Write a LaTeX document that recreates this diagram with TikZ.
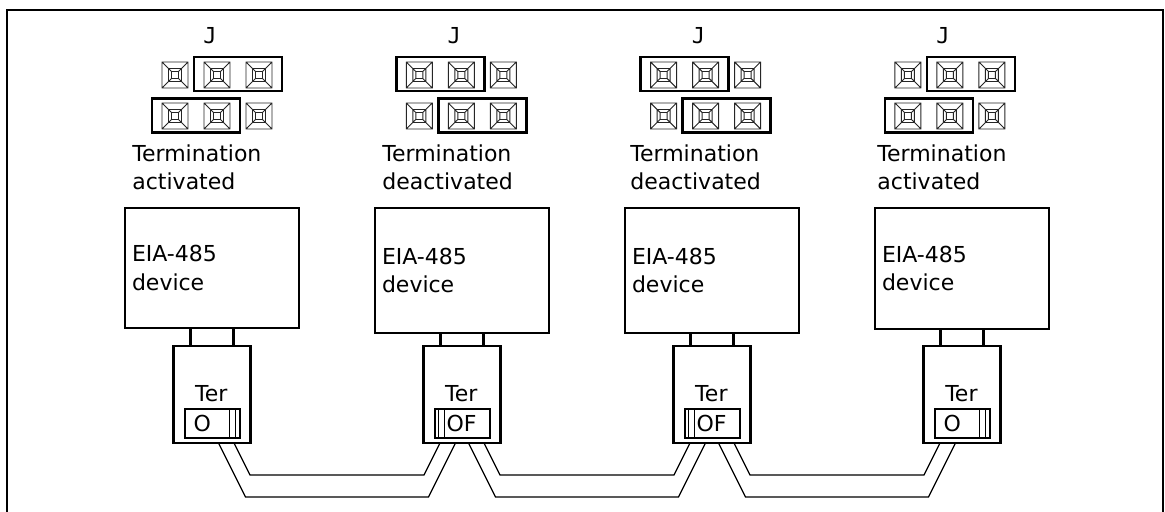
\documentclass[tikz,border=0pt]{standalone}
\usepackage{fontspec}
\setmainfont{DejaVu Sans}
\setmonofont{DejaVu Sans Mono}
\usetikzlibrary{positioning,calc}

\begin{document}
\begin{tikzpicture}[x=0.5pt, y=-0.5pt,
    box/.style={draw, line width=1.4pt, inner sep=0pt, outer sep=0pt},
    device/.style={box, minimum width=87pt, text width=80pt, align=left},
    terbox/.style={box, minimum width=38.5pt, minimum height=48.5pt},
    switch/.style={draw, line width=1pt, inner ysep=0pt, outer sep=0pt,
      minimum height=14.5pt, align=left},
    swon/.style={switch, inner xsep=4.5pt, text width=18.5pt},
    swoff/.style={switch, inner xsep=6pt, text width=15.5pt},
    jumper/.style={box, minimum width=44pt, minimum height=17pt},
    caption/.style={align=left, inner sep=0pt, anchor=north west},
    stub/.style={line width=1.4pt},
    cable/.style={line width=0.6pt},
    knob/.style={line width=0.5pt},
    jpin/.pic={
      \draw[line width=0.45pt, black!85]
        (-13,-13) rectangle (13,13) (-6.5,-6.5) rectangle (6.5,6.5)
        (-3.5,-3.5) rectangle (3.5,3.5)
        (-13,-13) -- (-3.5,-3.5) (13,-13) -- (3.5,-3.5)
        (13,13) -- (3.5,3.5) (-13,13) -- (-3.5,3.5);
    }]

  \fontsize{11pt}{14.3pt}\selectfont

  \newcommand\DX{250};
  \newcommand\JX{244.3};

  \useasboundingbox (0,0) rectangle (1165,512);
  \draw[line width=1.4pt] (7,10) rectangle (1163,540);

  % jumpers, row 1 at 75, row 2 at 116
  \foreach \k/\a/\b in {0/1/-1, 1/-1/1, 2/-1/1, 3/1/-1}{
    \foreach \p in {-42, 0, 42}{
      \pic at (217+\k*\JX+\p, 75) {jpin};
      \pic at (217+\k*\JX+\p, 116) {jpin};
    }
    \node[jumper] (jmpa\k) at (217+\k*\JX+\a*21, 74) {};
    \node[jumper] (jmpb\k) at (217+\k*\JX+\b*21, 115.5) {};
    \node[anchor=base, font=\ttfamily] (j\k) at (210+\k*\JX, 44) {J};
  }

  \node[caption] (cap1) at (132, 144) {Termination\\activated};
  \node[caption] (cap2) at (382, 144) {Termination\\deactivated};
  \node[caption] (cap3) at (630, 144) {Termination\\deactivated};
  \node[caption] (cap4) at (877, 144) {Termination\\activated};

  % devices
  \node[device, minimum height=60pt] (dev1) at (212+0*\DX, 268) {EIA-485\\device};
  \node[device, minimum height=62.5pt] (dev2) at (212+1*\DX, 270.5) {EIA-485\\device};
  \node[device, minimum height=62.5pt] (dev3) at (212+2*\DX, 270.5) {EIA-485\\device};
  \node[device, minimum height=60.5pt] (dev4) at (212+3*\DX, 268.5) {EIA-485\\device};

  % termination boxes
  \node[terbox] (ter1) at (212+0*\DX, 394.5) {};
  \node[terbox] (ter2) at (212+1*\DX, 394.5) {};
  \node[terbox] (ter3) at (212+2*\DX, 394.5) {};
  \node[terbox] (ter4) at (212+3*\DX, 394.5) {};

  \node[anchor=base west] (tl1) at ($(ter1.north west)+(14,55)$) {Ter};
  \node[anchor=base west] (tl2) at ($(ter2.north west)+(14,55)$) {Ter};
  \node[anchor=base west] (tl3) at ($(ter3.north west)+(14,55)$) {Ter};
  \node[anchor=base west] (tl4) at ($(ter4.north west)+(14,55)$) {Ter};

  \node[swon] (sw1) at (212+0*\DX, 423.5) {O};
  \node[swoff] (sw2) at (212+1*\DX, 423.5) {OF};
  \node[swoff] (sw3) at (212+2*\DX, 423.5) {OF};
  \node[swon] (sw4) at (212+3*\DX, 423.5) {O};

  \draw[knob] ([xshift=-5pt]sw1.north east) -- ([xshift=-5pt]sw1.south east)
    ([xshift=-2pt]sw1.north east) -- ([xshift=-2pt]sw1.south east);
  \draw[knob] ([xshift=2pt]sw2.north west) -- ([xshift=2pt]sw2.south west)
    ([xshift=5pt]sw2.north west) -- ([xshift=5pt]sw2.south west);
  \draw[knob] ([xshift=2pt]sw3.north west) -- ([xshift=2pt]sw3.south west)
    ([xshift=5pt]sw3.north west) -- ([xshift=5pt]sw3.south west);
  \draw[knob] ([xshift=-5pt]sw4.north east) -- ([xshift=-5pt]sw4.south east)
    ([xshift=-2pt]sw4.north east) -- ([xshift=-2pt]sw4.south east);

  % dev -> ter
  \draw[stub] ($(ter1.north)+(-21.5,0)$) -- ($(dev1.south)+(-21.5,0)$)
    ($(ter1.north)+(21.5,0)$) -- ($(dev1.south)+(21.5,0)$);
  \draw[stub] ($(ter2.north)+(-21.5,0)$) -- ($(dev2.south)+(-21.5,0)$)
    ($(ter2.north)+(21.5,0)$) -- ($(dev2.south)+(21.5,0)$);
  \draw[stub] ($(ter3.north)+(-21.5,0)$) -- ($(dev3.south)+(-21.5,0)$)
    ($(ter3.north)+(21.5,0)$) -- ($(dev3.south)+(21.5,0)$);
  \draw[stub] ($(ter4.north)+(-21.5,0)$) -- ($(dev4.south)+(-21.5,0)$)
    ($(ter4.north)+(21.5,0)$) -- ($(dev4.south)+(21.5,0)$);

  % cables
  \draw[cable] ($(ter1.south)+(6.5,0)$) -- ++(27,54) -- ($(ter2.south)+(-33.5,54)$) -- ($(ter2.south)+(-6.5,0)$); %% ter1->ter2
  \draw[cable] ($(ter1.south)+(22,0)$) -- ++(16,32) -- ($(ter2.south)+(-38,32)$) -- ($(ter2.south)+(-22,0)$);
  \draw[cable] ($(ter2.south)+(6.5,0)$) -- ++(27,54) -- ($(ter3.south)+(-33.5,54)$) -- ($(ter3.south)+(-6.5,0)$); %% ter2->ter3
  \draw[cable] ($(ter2.south)+(22,0)$) -- ++(16,32) -- ($(ter3.south)+(-38,32)$) -- ($(ter3.south)+(-22,0)$);
  \draw[cable] ($(ter3.south)+(6.5,0)$) -- ++(27,54) -- ($(ter4.south)+(-33.5,54)$) -- ($(ter4.south)+(-6.5,0)$); %% ter3->ter4
  \draw[cable] ($(ter3.south)+(22,0)$) -- ++(16,32) -- ($(ter4.south)+(-38,32)$) -- ($(ter4.south)+(-22,0)$);
\end{tikzpicture}
\end{document}
